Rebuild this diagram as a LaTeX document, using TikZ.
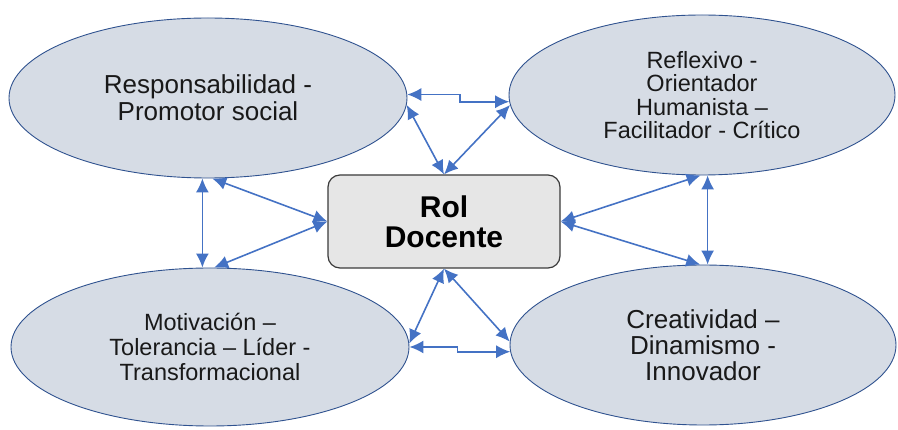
\documentclass[tikz,border=0pt]{standalone}
\usepackage{fontspec}
\setmainfont{Liberation Sans}
\usepackage{tikz}
\usetikzlibrary{shapes.geometric,arrows.meta}
\definecolor{linkblue}{HTML}{4472C4}
\definecolor{ideafill}{HTML}{D6DCE5}
\definecolor{ideaedge}{HTML}{2F528F}
\definecolor{rolfill}{HTML}{E6E6E6}
\definecolor{roledge}{HTML}{3A3A3A}

\begin{document}
\begin{tikzpicture}[x=1pt,y=-1pt,
    idea/.style={ellipse,inner sep=0pt,align=center,draw=ideaedge,fill=ideafill,line width=0.9pt,text=black!90},
    rol/.style={rectangle,rounded corners=12pt,align=center,draw=roledge,fill=rolfill,line width=1.2pt,minimum width=232pt,minimum height=93pt,font=\fontsize{30}{30}\selectfont\bfseries},
    link/.style={draw=linkblue,line width=1.6pt,{Latex[length=14pt,width=13pt]}-{Latex[length=14pt,width=13pt]}}]
  \useasboundingbox (0,0) rectangle (898,430);
  \node[idea,minimum width=398pt,minimum height=160pt,font=\fontsize{26}{27}\selectfont](resp) at (208,98){Responsabilidad -\\Promotor social};
  \node[idea,minimum width=386pt,minimum height=160pt,font=\fontsize{23.5}{23.3}\selectfont](refl) at (702,95){Reflexivo -\\Orientador\\Humanista --\\Facilitador - Crítico};
  \node[idea,minimum width=398pt,minimum height=158pt,font=\fontsize{23.5}{25}\selectfont](motiv) at (210,347){Motivación --\\Tolerancia -- Líder -\\Transformacional};
  \node[idea,minimum width=386pt,minimum height=160pt,font=\fontsize{26}{26}\selectfont](creat) at (703,345){Creatividad --\\Dinamismo -\\Innovador};
  \node[rol](rol) at (444,221.5){Rol\\Docente};

  \draw[link] (resp.1) -- ++(53,0) |- (refl.-178);
  \draw[link] (resp.-2) -- (rol.north);
  \draw[link] (refl.-177) -- (rol.north);
  \draw[link] (resp.-94) -- (resp.-94 |- motiv.north);
  \draw[link] (resp.-87) -- (rol.west);
  \draw[link] (motiv.87) -- (rol.west);
  \draw[link] (refl.-91) -- (rol.east);
  \draw[link] (creat.92) -- (rol.east);
  \draw[link] (refl.-86) -- (refl.-86 |- creat.north);
  \draw[link] (motiv.1) -- (rol.south);
  \draw[link] (creat.179) -- (rol.south);
  \draw[link] (motiv.east) -- ++(48,0) |- (creat.-178);
\end{tikzpicture}
\end{document}
